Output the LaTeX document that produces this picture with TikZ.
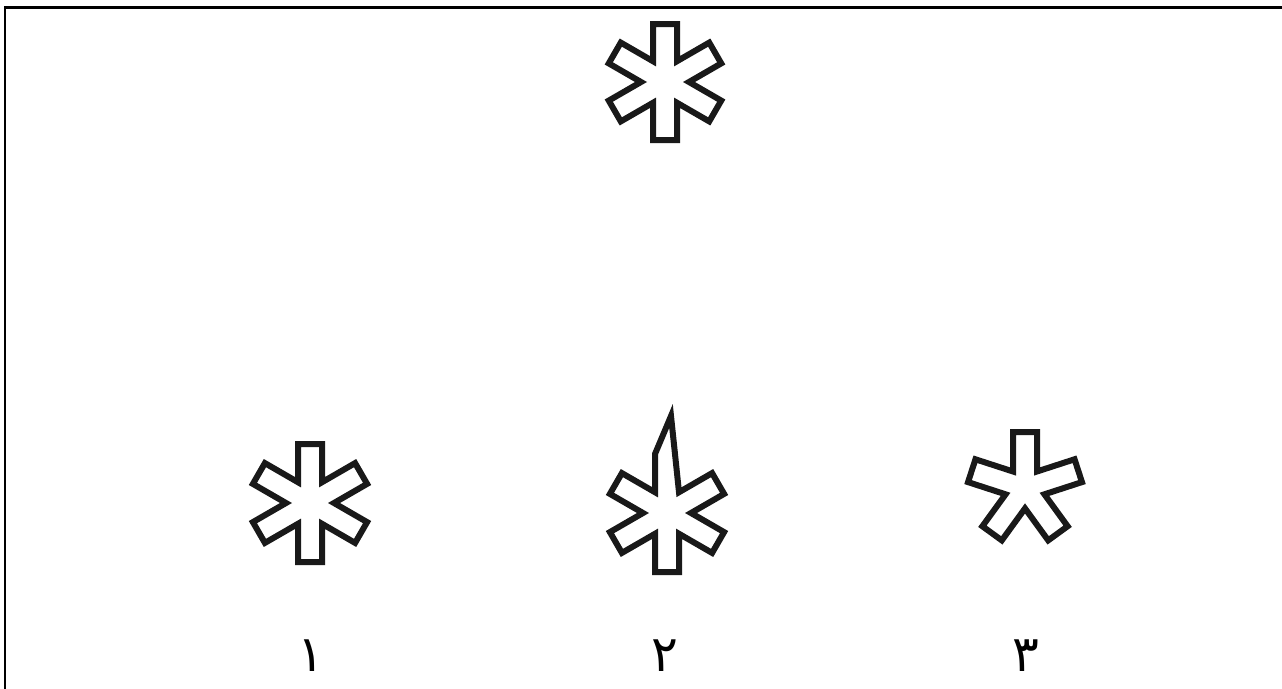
\documentclass[tikz,border=0pt]{standalone}
\usepackage{fontspec}
\newfontfamily\arabicfont[Script=Arabic]{DejaVu Sans}
\TeXXeTstate=1
\usetikzlibrary{calc}
\tikzset{
  starline/.style={draw=black!90, line width=6pt, line join=miter, fill=white},
  frameline/.style={draw=black, line width=2.5pt},
  digit/.style={inner sep=0pt, font=\fontsize{50}{60}\selectfont\arabicfont}
}
\newcommand\wdw{12}
\newcommand\sixarm[3]{% cx cy L
  \begin{scope}[shift={(#1,#2)}, yscale=-1]
    \draw[starline] (60:2*\wdw)
      \foreach \a [evaluate=\a as \am using \a-90, evaluate=\a as \ap using \a+90, evaluate=\a as \an using \a+30] in {90,150,210,270,330,390} {
        -- ([shift={(\am:\wdw)}]\a:#3) -- ([shift={(\ap:\wdw)}]\a:#3) -- (\an:2*\wdw)
      } -- cycle;
  \end{scope}}
\begin{document}
\begin{tikzpicture}[x=1pt, y=-1pt]
  \useasboundingbox (0,0) rectangle (1282,688);
  \fill[white] (0,0) rectangle (1282,688);
  \draw[frameline] (5,690) -- (5,7.5) -- (1284,7.5);
  % top asterisk
  \sixarm{665}{82}{58}
  % asterisk 1
  \sixarm{310}{503}{59}
  % asterisk 2 (spiked)
  \begin{scope}[shift={(667,513)}, yscale=-1]
    \draw[starline] (60:2*\wdw) -- (4,97) -- (-\wdw,59) -- (120:2*\wdw)
      \foreach \a [evaluate=\a as \am using \a-90, evaluate=\a as \ap using \a+90, evaluate=\a as \an using \a+30] in {150,210,270,330,390} {
        -- ([shift={(\am:\wdw)}]\a:59) -- ([shift={(\ap:\wdw)}]\a:59) -- (\an:2*\wdw)
      } -- cycle;
  \end{scope}
  % asterisk 3 (five arms)
  \begin{scope}[shift={(1025,488)}, yscale=-1]
    \draw[starline] (54:1.701*\wdw)
      \foreach \a [evaluate=\a as \am using \a-90, evaluate=\a as \ap using \a+90, evaluate=\a as \an using \a+36] in {90,162,234,306,378} {
        -- ([shift={(\am:\wdw)}]\a:56) -- ([shift={(\ap:\wdw)}]\a:56) -- (\an:1.701*\wdw)
      } -- cycle;
  \end{scope}
  % labels
  \node[digit] (n1) at (311,656) {\beginR ١\endR};
  \node[digit] (n2) at (665,656) {\beginR ٢\endR};
  \node[digit] (n3) at (1026,656) {\beginR ٣\endR};
\end{tikzpicture}
\end{document}
